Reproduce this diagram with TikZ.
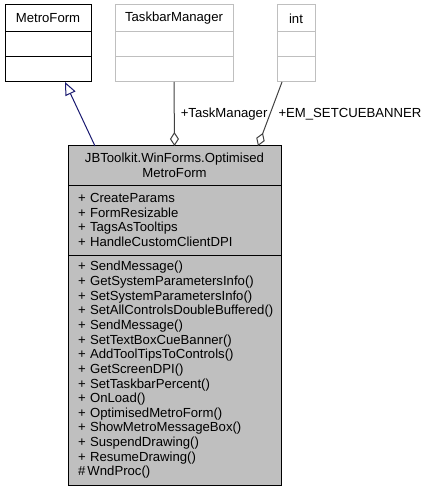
\documentclass[tikz,border=0pt]{standalone}
\usepackage{fontspec}
\setmainfont{Liberation Sans}
\usepackage{tikz}
\usetikzlibrary{positioning,calc,arrows.meta}

\definecolor{boxgray}{HTML}{BFBFBF}
\definecolor{edgegray}{HTML}{404040}
\definecolor{inhblue}{HTML}{191970}

\hyphenpenalty=10000
\exhyphenpenalty=10000

\tikzset{
  part/.style={draw=black, fill=white, line width=1bp, inner sep=0pt, outer sep=0pt,
    font=\fontsize{13.2}{14.7}\selectfont},
  lightpart/.style={part, draw=boxgray},
  mainpart/.style={part, fill=boxgray, minimum width=213bp},
  aggr/.style={{Diamond[open,length=14bp,width=9bp]}-, edgegray, line width=1bp},
  inherit/.style={-{Triangle[open,length=13bp,width=11bp]}, inhblue, line width=1bp},
  lbl/.style={inner sep=2bp, font=\fontsize{13.2}{14.7}\selectfont, black}
}

\begin{document}
\begin{tikzpicture}[x=1bp, y=-1bp]

    \useasboundingbox (0,0) rectangle (424,492);

    %base class
    \node[part, anchor=north west, minimum width=86bp, minimum height=27bp] (metroT) at (5,5) {MetroForm};
    \node[part, below=0pt of metroT, minimum width=86bp, minimum height=25bp] (metroA) {};
    \node[part, below=0pt of metroA, minimum width=86bp, minimum height=25bp] (metroO) {};

    %member types
    \node[lightpart, anchor=north west, minimum width=118bp, minimum height=27bp] (taskT) at (115,5) {TaskbarManager};
    \node[lightpart, below=0pt of taskT, minimum width=118bp, minimum height=25bp] (taskA) {};
    \node[lightpart, below=0pt of taskA, minimum width=118bp, minimum height=25bp] (taskO) {};

    \node[lightpart, anchor=north west, minimum width=38bp, minimum height=27bp] (intT) at (277,5) {int};
    \node[lightpart, below=0pt of intT, minimum width=38bp, minimum height=25bp] (intA) {};
    \node[lightpart, below=0pt of intA, minimum width=38bp, minimum height=25bp] (intO) {};

    %main class
    \node[mainpart, anchor=north west, minimum height=39bp, align=center] (mainT) at (68,146)
    {JBToolkit.WinForms.Optimised\\MetroForm};
    \node[mainpart, below=0pt of mainT, minimum height=70bp, inner xsep=10bp, text width=193bp, align=left] (mainA)
    {+~CreateParams\\+~FormResizable\\+~TagsAsTooltips\\+~HandleCustomClientDPI};
    \node[mainpart, below=0pt of mainA, minimum height=230bp, inner xsep=10bp, text width=193bp, align=left] (mainO)
    {+~SendMessage()\\+~GetSystemParametersInfo()\\+~SetSystemParametersInfo()\\+~SetAllControlsDoubleBuffered()\\%
     +~SendMessage()\\+~SetTextBoxCueBanner()\\+~AddToolTipsToControls()\\+~GetScreenDPI()\\%
     +~SetTaskbarPercent()\\+~OnLoad()\\+~OptimisedMetroForm()\\+~ShowMetroMessageBox()\\%
     +~SuspendDrawing()\\+~ResumeDrawing()\\\#\,WndProc()};

    %edges
    \draw[inherit] ($(mainT.north west)+(27,0)$) -- ($(metroO.south west)+(60,0)$);
    \draw[aggr] (mainT.north) -- (taskO.south) node[lbl, midway, right=4bp] {+TaskManager};
    \draw[aggr] ($(mainT.north east)+(-23,0)$) -- ($(intO.south west)+(5,0)$)
    node[lbl, midway, right=6bp] {+EM\_SETCUEBANNER};

\end{tikzpicture}
\end{document}
